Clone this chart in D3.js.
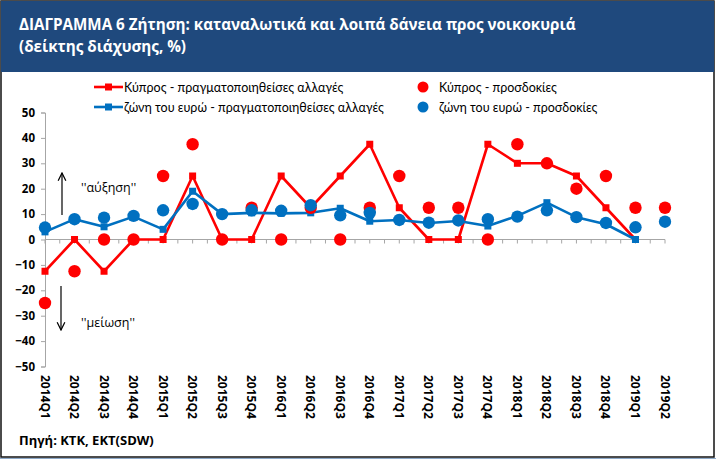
<!DOCTYPE html>
<html>
<head>
<meta charset="utf-8">
<script src="https://cdn.jsdelivr.net/npm/d3@7"></script>
<style>
  html, body { margin: 0; padding: 0; background: #fff; }
  svg { display: block; }
</style>
</head>
<body>
<svg id="chart" width="716" height="460"></svg>
<script>
const categories = ["2014Q1","2014Q2","2014Q3","2014Q4","2015Q1","2015Q2","2015Q3","2015Q4",
  "2016Q1","2016Q2","2016Q3","2016Q4","2017Q1","2017Q2","2017Q3","2017Q4",
  "2018Q1","2018Q2","2018Q3","2018Q4","2019Q1","2019Q2"];
const cyRealized = [-12.5, 0, -12.5, 0, 0, 25, 0, 0, 25, 12.5, 25, 37.5, 12.5, 0, 0, 37.5, 30, 30, 25, 12.5, 0, null];
const cyExpected = [-25, -12.5, 0, 0, 25, 37.5, 0, 12.5, 0, 12.5, 0, 12.5, 25, 12.5, 12.5, 0, 37.5, 30, 20, 25, 12.5, 12.5];
const euRealized = [3, 8, 5, 9, 4, 19, 10, 10.5, 10.3, 10.5, 12.3, 7.2, 7.7, 6.5, 7.3, 5.3, 9.3, 14.5, 8.8, 6, 0, null];
const euExpected = [4.7, 8, 8.6, 9.3, 11.5, 14, 10, 11.5, 11.3, 13.5, 9.5, 10.5, 7.7, 6.6, 7.5, 8, 9, 11.5, 8.8, 6.5, 4.8, 7];
const yTicks = [-50, -40, -30, -20, -10, 0, 10, 20, 30, 40, 50];
const legendLabels = ["Κύπρος - πραγματοποιηθείσες αλλαγές", "ζώνη του ευρώ - πραγματοποιηθείσες αλλαγές",
  "Κύπρος - προσδοκίες", "ζώνη του ευρώ - προσδοκίες"];
const titleLines = ["ΔΙΑΓΡΑΜΜΑ 6 Ζήτηση: καταναλωτικά και λοιπά δάνεια προς νοικοκυριά", "(δείκτης διάχυσης, %)"];
const sourceText = "Πηγή: KTK, EKT(SDW)";

const RED = "#FF0000", BLUE = "#0070C0";
const svg = d3.select("#chart");

// frame
svg.append("rect").attr("x", 1).attr("y", 1).attr("width", 713).attr("height", 456)
  .attr("fill", "#fff").attr("stroke", "#111").attr("stroke-width", 1.5);
svg.append("rect").attr("x", 1).attr("y", 1).attr("width", 713).attr("height", 71)
  .attr("fill", "#1F497D");
svg.append("line").attr("x1", 0).attr("x2", 716).attr("y1", 458.5).attr("y2", 458.5)
  .attr("stroke", "#8DA9C9").attr("stroke-width", 1);

// title
svg.selectAll("text.title").data(titleLines).join("text")
  .attr("class", "title")
  .attr("x", 19).attr("y", (d, i) => 30 + i * 22)
  .attr("fill", "#fff")
  .style("font-family", "'Liberation Sans Narrow', 'Open Sans', sans-serif")
  .style("font-weight", "bold").style("font-size", "15.2px")
  .text(d => d);

const x = d3.scalePoint().domain(categories).range([45, 665]);
const y = d3.scaleLinear().domain([-50, 50]).range([366.5, 112.5]);

// y axis
const yAxis = svg.append("g").attr("transform", "translate(45,0)")
  .call(d3.axisLeft(y).tickValues(yTicks).tickSize(4).tickPadding(6).tickFormat(d3.format("d")));
yAxis.select(".domain").attr("stroke", "#A6A6A6");
yAxis.selectAll(".tick line").attr("stroke", "#A6A6A6");
yAxis.selectAll(".tick text").attr("fill", "#000")
  .style("font-family", "'Open Sans', sans-serif").style("font-weight", "bold").style("font-size", "11.5px");

// x axis at zero
const step = x.step();
const halfTicks = d3.range(0, categories.length * 2 - 1).map(i => 45 + i * step / 2);
const xAxisG = svg.append("g");
xAxisG.append("line").attr("x1", x(categories[0])).attr("x2", x(categories[categories.length - 1]))
  .attr("y1", y(0)).attr("y2", y(0)).attr("stroke", "#A6A6A6");
xAxisG.selectAll("line.t").data(halfTicks).join("line").attr("class", "t")
  .attr("x1", d => d).attr("x2", d => d).attr("y1", y(0)).attr("y2", y(0) + 4)
  .attr("stroke", "#A6A6A6");

// x labels rotated
svg.selectAll("text.xl").data(categories).join("text").attr("class", "xl")
  .attr("transform", d => `translate(${x(d) - 4.5},375) rotate(90)`)
  .attr("fill", "#000")
  .style("font-family", "'Open Sans', sans-serif").style("font-weight", "bold").style("font-size", "12px")
  .text(d => d);

// lines
const lineGen = d3.line().defined(d => d.v !== null).x(d => x(d.c)).y(d => y(d.v));
function drawLine(vals, color) {
  const data = categories.map((c, i) => ({ c, v: vals[i] }));
  svg.append("path").datum(data).attr("d", lineGen).attr("fill", "none")
    .attr("stroke", color).attr("stroke-width", 2.6).attr("stroke-linejoin", "round");
  svg.append("g").selectAll("rect").data(data.filter(d => d.v !== null)).join("rect")
    .attr("x", d => x(d.c) - 3.5).attr("y", d => y(d.v) - 3.5)
    .attr("width", 7).attr("height", 7).attr("fill", color);
}
function drawDots(vals, color) {
  const data = categories.map((c, i) => ({ c, v: vals[i] })).filter(d => d.v !== null);
  svg.append("g").selectAll("circle").data(data).join("circle")
    .attr("cx", d => x(d.c)).attr("cy", d => y(d.v)).attr("r", 6.2).attr("fill", color);
}
drawLine(cyRealized, RED);
drawLine(euRealized, BLUE);
drawDots(cyExpected, RED);
drawDots(euExpected, BLUE);

// annotations
const defs = svg.append("defs");
defs.append("marker").attr("id", "arr").attr("viewBox", "0 0 10 10").attr("refX", 9).attr("refY", 5)
  .attr("markerWidth", 8).attr("markerHeight", 8).attr("orient", "auto-start-reverse")
  .append("path").attr("d", "M1,1 L9,5 L1,9").attr("fill", "none").attr("stroke", "#000").attr("stroke-width", 1.3);
svg.append("line").attr("x1", 62).attr("x2", 62).attr("y1", 215).attr("y2", 173)
  .attr("stroke", "#000").attr("stroke-width", 1.2).attr("marker-end", "url(#arr)");
svg.append("line").attr("x1", 61).attr("x2", 61).attr("y1", 286).attr("y2", 330)
  .attr("stroke", "#000").attr("stroke-width", 1.2).attr("marker-end", "url(#arr)");
const annStyle = sel => sel.attr("fill", "#000").style("font-family", "'Open Sans', sans-serif").style("font-size", "12.5px");
svg.append("text").attr("x", 81).attr("y", 192).text("''αύξηση''").call(annStyle);
svg.append("text").attr("x", 81).attr("y", 327).text("''μείωση''").call(annStyle);

// legend
const legFont = sel => sel.attr("fill", "#000").style("font-family", "Lato, 'Open Sans', sans-serif").style("font-size", "12.5px");
const legRows = [87, 107];
[RED, BLUE].forEach((col, i) => {
  const g = svg.append("g");
  g.append("line").attr("x1", 94).attr("x2", 123).attr("y1", legRows[i]).attr("y2", legRows[i])
    .attr("stroke", col).attr("stroke-width", 2.6);
  g.append("rect").attr("x", 105).attr("y", legRows[i] - 3.5).attr("width", 7).attr("height", 7).attr("fill", col);
  g.append("text").attr("x", 124).attr("y", legRows[i] + 4.5).text(legendLabels[i]).call(legFont);
});
[RED, BLUE].forEach((col, i) => {
  svg.append("circle").attr("cx", 423).attr("cy", legRows[i]).attr("r", 5.5).attr("fill", col);
  svg.append("text").attr("x", 439).attr("y", legRows[i] + 4.5).text(legendLabels[i + 2]).call(legFont);
});

// source
svg.append("text").attr("x", 19).attr("y", 445).text(sourceText)
  .attr("fill", "#000").style("font-family", "'Liberation Sans Narrow', 'Open Sans', sans-serif")
  .style("font-weight", "bold").style("font-size", "13px");
</script>
</body>
</html>
